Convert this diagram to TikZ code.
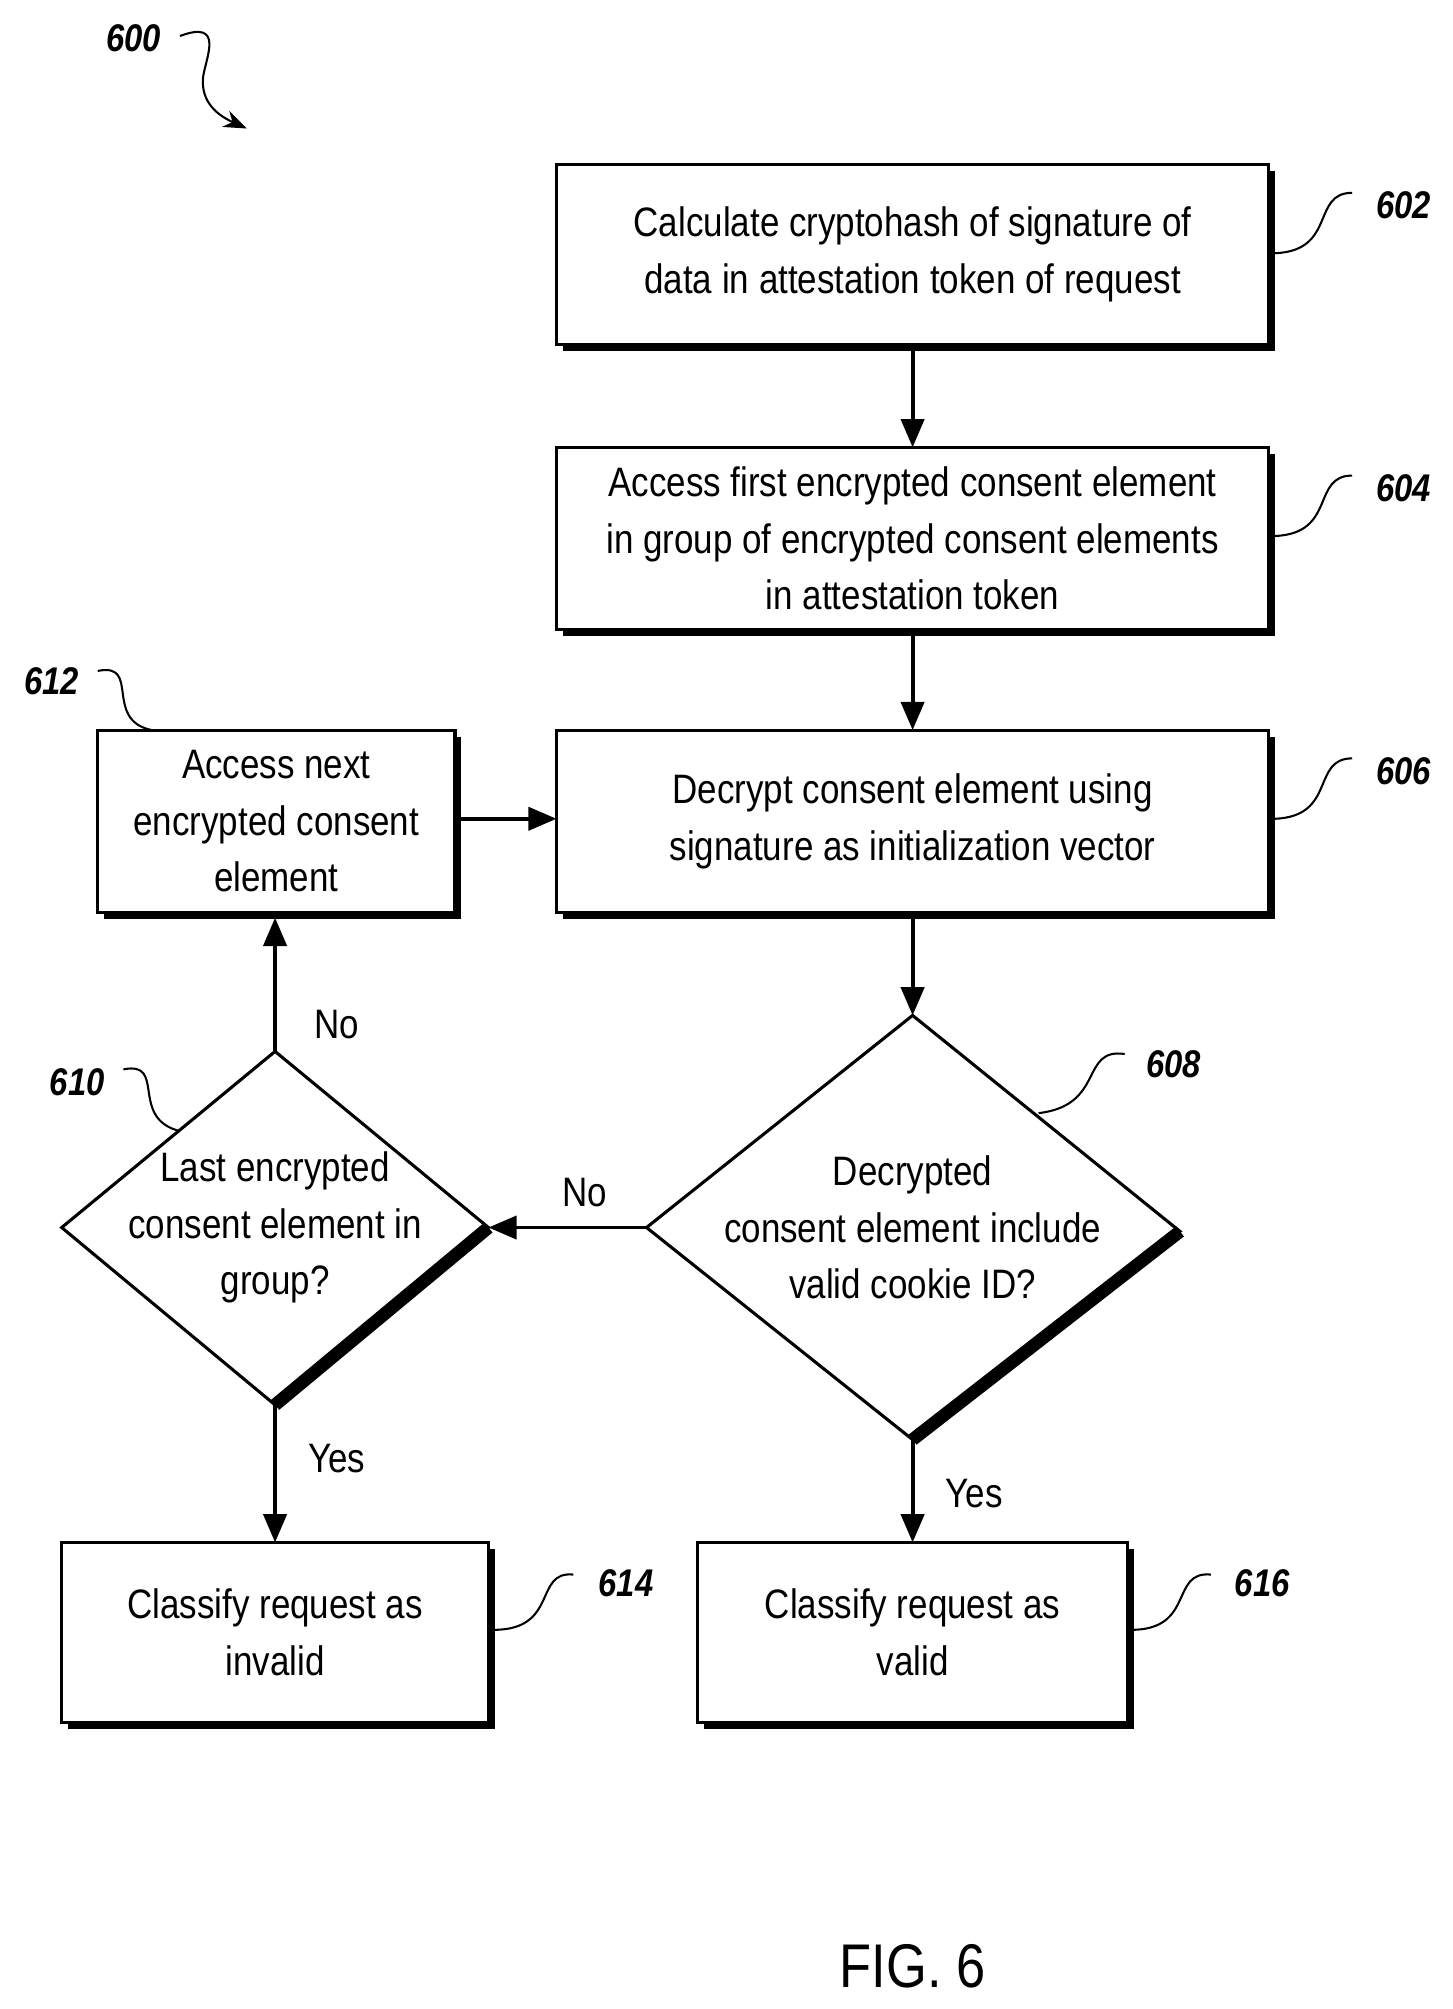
\documentclass[tikz,border=0pt]{standalone}
\usepackage{fontspec}
\setmainfont{Liberation Sans}[FakeStretch=0.85]
\usetikzlibrary{arrows.meta,shapes.geometric}
\begin{document}
\begin{tikzpicture}[x=0.5pt,y=-0.5pt,
 txt/.style={font=\fontsize{16}{22}\selectfont,align=center},
 lbl/.style={font=\fontsize{15}{18}\selectfont\bfseries\itshape},
 arr/.style={line width=1.5pt,-{Triangle[length=11pt,width=9pt]}},
 sq/.style={line width=0.8pt}]
\useasboundingbox (0,0) rectangle (1130,1563);
\newcommand\bx[6]{%
 \fill (#1+5,#2+5) rectangle (#3+5,#4+5);
 \draw[line width=1.2pt,fill=white] (#1,#2) rectangle (#3,#4);
 \node[txt] (#5) at ({(#1+#3)/2},{(#2+#4)/2}) {#6};}
\bx{433}{128}{987}{268}{b602}{Calculate cryptohash of signature of\\data in attestation token of request}
\bx{433}{348}{987}{490}{b604}{Access first encrypted consent element\\in group of encrypted consent elements\\in attestation token}
\bx{433}{568}{987}{710}{b606}{Decrypt consent element using\\signature as initialization vector}
\bx{76}{568}{354}{710}{b612}{Access next\\encrypted consent\\element}
\bx{48}{1200}{380}{1340}{b614}{Classify request as\\invalid}
\bx{543}{1200}{877}{1340}{b616}{Classify request as\\valid}
% diamonds
\coordinate (d8t) at (710,790); \coordinate (d8l) at (503,955);
\coordinate (d8r) at (918,958); \coordinate (d8b) at (710,1120);
\draw[line width=5pt] (d8r) -- (d8b);
\draw[line width=1.2pt] (d8t) -- (d8r) -- (d8b) -- (d8l) -- cycle;
\node[txt] (d608) at (710,955) {Decrypted\\consent element include\\valid cookie ID?};
\coordinate (d0t) at (214,818); \coordinate (d0l) at (48,955);
\coordinate (d0r) at (380,955); \coordinate (d0b) at (214,1093);
\draw[line width=5pt] (d0r) -- (d0b);
\draw[line width=1.2pt] (d0t) -- (d0r) -- (d0b) -- (d0l) -- cycle;
\node[txt] (d610) at (214,955) {Last encrypted\\consent element in\\group?};
% arrows
\draw[arr] (b602.south |- 0,272) -- (710,348);
\draw[arr] (710,494) -- (710,568);
\draw[arr] (710,714) -- (d8t);
\draw[arr] (d8l) -- (d0r);
\draw[arr] (d0t) -- (214,714);
\draw[arr] (358,637) -- (433,637);
\draw[arr] (d0b) -- (214,1200);
\draw[arr] (d8b) -- (710,1200);
\node[txt] at (455,928) {No};
\node[txt] at (262,797) {No};
\node[txt] at (262,1135) {Yes};
\node[txt] at (758,1162) {Yes};
% labels
\node[lbl] (l600) at (104,30) {600};
\node[lbl] (l602) at (1092,160) {602};
\node[lbl] (l604) at (1092,380) {604};
\node[lbl] (l606) at (1092,600) {606};
\node[lbl] (l612) at (40,530) {612};
\node[lbl] (l610) at (60,842) {610};
\node[lbl] (l608) at (913,828) {608};
\node[lbl] (l614) at (487,1232) {614};
\node[lbl] (l616) at (982,1232) {616};
\draw[sq] (1052,150) .. controls (1020,150) and (1040,195) .. (992,197);
\draw[sq] (1052,370) .. controls (1020,370) and (1040,415) .. (992,417);
\draw[sq] (1052,590) .. controls (1020,590) and (1040,635) .. (992,637);
\draw[sq] (76,522) .. controls (110,515) and (80,560) .. (118,568);
\draw[sq] (96,832) .. controls (130,825) and (100,870) .. (140,880);
\draw[sq] (875,820) .. controls (840,815) and (860,860) .. (808,866);
\draw[sq] (446,1225) .. controls (415,1222) and (435,1268) .. (384,1268);
\draw[sq] (942,1225) .. controls (910,1222) and (930,1268) .. (880,1268);
\draw[sq,-{Stealth[length=9pt]}] (140,28) .. controls (175,15) and (160,45) .. (158,60) .. controls (156,80) and (170,90) .. (192,100);
\node[font=\fontsize{24}{28}\selectfont] (fig) at (710,1530) {FIG. 6};
\end{tikzpicture}
\end{document}
